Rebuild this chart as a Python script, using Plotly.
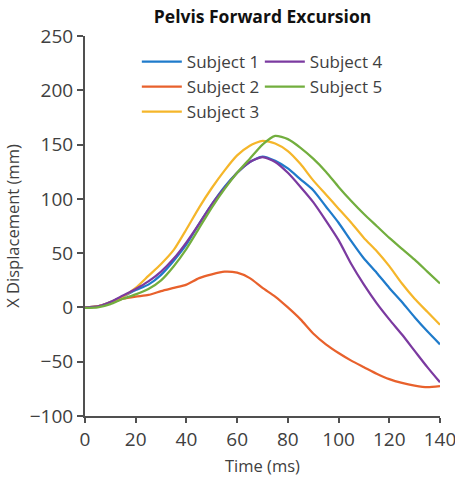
import plotly.graph_objects as go

time_ms = [0, 5, 10, 15, 20, 25, 30, 35, 40, 45, 50, 55, 60, 65, 70,
           75, 80, 85, 90, 95, 100, 105, 110, 115, 120, 125, 130, 135, 140]

subject1 = [0, 1, 5, 10, 16, 21, 30, 43, 58, 77, 95, 111, 124, 134, 139,
            135, 128, 118, 108, 93, 78, 61, 45, 32, 18, 5, -9, -22, -34]
subject2 = [0, 1, 4, 8, 10, 11.5, 15, 18, 21, 27, 30.5, 33, 32, 27, 18,
            10, 0, -11, -24, -34, -42, -49, -55, -61, -66, -69.5, -72, -73.5, -72.5]
subject3 = [0, 1, 5, 10, 18, 29, 40, 53, 72, 92, 110, 126, 140, 149, 153.5,
            151, 144, 132, 117, 104, 91, 78, 64, 52, 38, 22, 8, -4, -16]
subject4 = [0, 1, 5, 11, 17, 24, 33, 45, 60, 77, 95, 110, 124, 134, 138.5,
            134, 124, 111, 97, 80, 62, 40, 21, 4, -11, -25, -40, -55, -69]
subject5 = [-0.5, 0, 3, 8, 12, 17, 25, 38, 54, 73, 92, 109, 124, 137, 150,
            158, 155, 147, 137, 125, 111, 98, 86, 75, 64, 54, 44, 33, 22]

names = ["Subject 1", "Subject 2", "Subject 3", "Subject 4", "Subject 5"]
series = [subject1, subject2, subject3, subject4, subject5]
colors = ["#1F7BCB", "#E8612C", "#F5B62A", "#7B3AA0", "#72AE3E"]
ranks = [1, 3, 5, 2, 4]

x_ticks = [0, 20, 40, 60, 80, 100, 120, 140]
y_ticks = [-100, -50, 0, 50, 100, 150, 200, 250]

FONT = "Open Sans"
TXT = "#404040"

fig = go.Figure()
for name, ys, col, rk in zip(names, series, colors, ranks):
    fig.add_trace(go.Scatter(
        x=time_ms, y=ys, name=name, mode="lines",
        line=dict(color=col, width=2.25, shape="spline", smoothing=0.6),
        legendrank=rk,
    ))

axis_common = dict(
    showgrid=False, zeroline=False, showline=True, automargin=False,
    linecolor="#505050", linewidth=2,
    ticks="outside", tickcolor="#505050", tickwidth=2,
    ticklabeloverflow="allow",
    tickfont=dict(family=FONT, size=19, color=TXT),
)

fig.update_layout(
    width=455, height=479,
    margin=dict(l=85, r=15, t=36, b=63),
    paper_bgcolor="white", plot_bgcolor="white",
    font=dict(family=FONT, color=TXT),
    title=dict(text="<b>Pelvis Forward Excursion</b>",
               font=dict(family=FONT, size=17.5, color="#111111"),
               x=0.577, xanchor="center", y=0.965, yanchor="middle"),
    showlegend=True,
    legend=dict(orientation="h", x=0.146, xanchor="left", y=0.979, yanchor="top",
                font=dict(family=FONT, size=17, color=TXT),
                itemwidth=40,
                entrywidth=68, entrywidthmode="pixels",
                bgcolor="rgba(0,0,0,0)", traceorder="normal"),
)
fig.update_xaxes(range=[0, 140], tickvals=x_ticks, ticklen=5,
                 title=dict(text="Time (ms)", font=dict(family=FONT, size=16.5, color=TXT), standoff=10),
                 **axis_common)
fig.update_yaxes(range=[-100, 250], tickvals=y_ticks, ticklen=6,
                 title=dict(text="X Displacement (mm)", font=dict(family=FONT, size=16.5, color=TXT), standoff=6),
                 **axis_common)

fig.write_html("out.html")
